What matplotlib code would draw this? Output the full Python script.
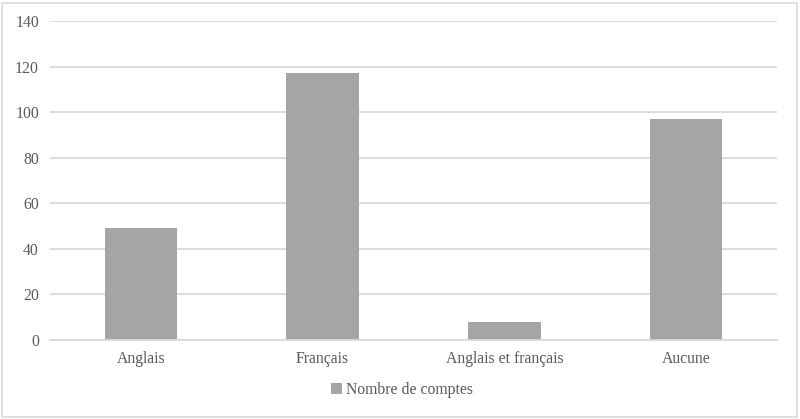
import matplotlib.pyplot as plt
from matplotlib.patches import Rectangle

plt.rcParams['font.family'] = ['Liberation Serif', 'DejaVu Serif']

# Data
categories = ['Anglais', 'Français', 'Anglais et français', 'Aucune']
counts = [49, 117, 8, 97]
series_name = 'Nombre de comptes'

text_color = '#595959'
grid_color = '#D9D9D9'
bar_color = '#A5A5A5'

fig = plt.figure(figsize=(8, 4.19), dpi=100)
ax = fig.add_axes([50 / 800, 1 - 340 / 419, 727 / 800, 319 / 419])

ax.bar(range(len(categories)), counts, width=0.4, color=bar_color, label=series_name, zorder=3)

ax.set_xlim(-0.5, len(categories) - 0.5)
ax.set_ylim(0, 140)
ax.set_yticks(range(0, 141, 20))
ax.set_xticks(range(len(categories)))
ax.set_xticklabels(categories)

ax.grid(axis='y', color=grid_color, linewidth=1.3, zorder=0)
for side in ['top', 'right', 'left']:
    ax.spines[side].set_visible(False)
ax.spines['bottom'].set_color(grid_color)
ax.spines['bottom'].set_linewidth(1.3)
ax.spines['bottom'].set_zorder(4)

ax.tick_params(axis='both', length=0, labelsize=11.3, colors=text_color)
ax.tick_params(axis='x', pad=8)
ax.tick_params(axis='y', pad=8)

leg = fig.legend(loc='center', bbox_to_anchor=(402 / 800, 1 - 390 / 419), frameon=False,
                 fontsize=11.3, handlelength=0.7, handleheight=0.7, handletextpad=0.2)
for t in leg.get_texts():
    t.set_color(text_color)

# light border around the whole chart
fig.patches.append(Rectangle((2 / 800, 2 / 419), 795 / 800, 414 / 419, transform=fig.transFigure,
                             fill=False, edgecolor='#D9D9D9', linewidth=1.2))

fig.savefig('out.png', dpi=100)
